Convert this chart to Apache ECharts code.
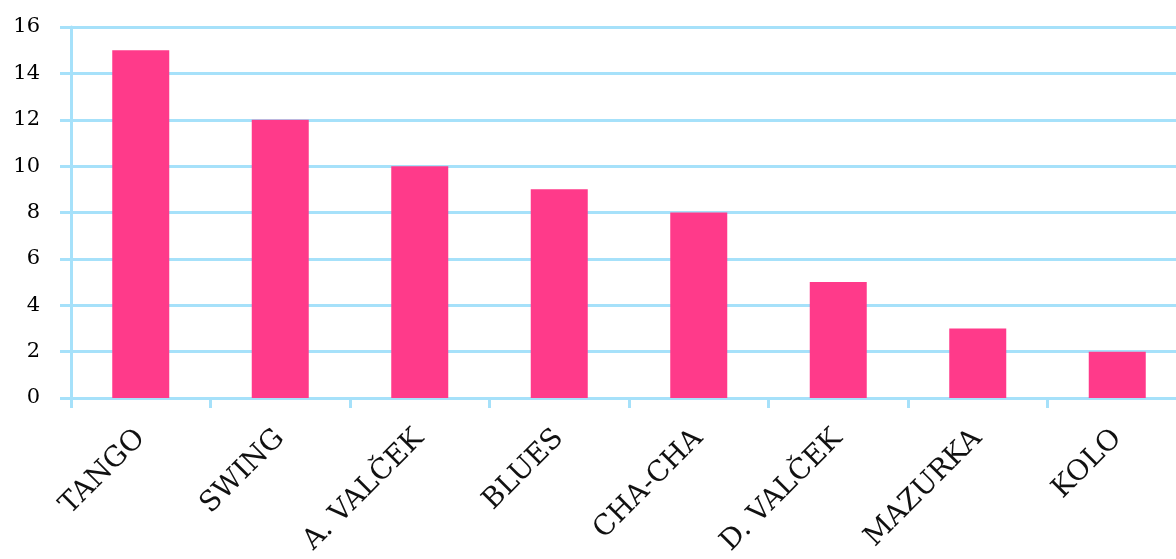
<!DOCTYPE html>
<html><head><meta charset="utf-8">
<script src="https://cdn.jsdelivr.net/npm/echarts@6/dist/echarts.min.js"></script>
<style>html,body{margin:0;padding:0;background:#fff;overflow:hidden}#c{width:1200px;height:559px}</style>
</head><body><div id="c"></div>
<script>
const categories = ["TANGO","SWING","A. VALČEK","BLUES","CHA-CHA","D. VALČEK","MAZURKA","KOLO"];
const values = [15,12,10,9,8,5,3,2];
const yTicks = {min:0,max:16,interval:2};
const gridColor = '#A6E1FA';
const font = 'DejaVu Serif';
const chart = echarts.init(document.getElementById('c'));
chart.setOption({
  animation:false,
  grid:{left:71,top:27,bottom:161,right:13,containLabel:false},
  xAxis:{type:'category',data:categories,boundaryGap:true,
    axisLine:{show:true,lineStyle:{color:gridColor,width:3}},
    axisTick:{show:true,length:10,lineStyle:{color:gridColor,width:3}},
    axisLabel:{rotate:45,margin:36,fontFamily:font,fontSize:28,color:'#111',interval:0}},
  yAxis:{type:'value',min:yTicks.min,max:yTicks.max,interval:yTicks.interval,
    axisLine:{show:true,lineStyle:{color:gridColor,width:3}},
    axisTick:{show:true,length:11,lineStyle:{color:gridColor,width:3}},
    splitLine:{show:true,lineStyle:{color:gridColor,width:3}},
    axisLabel:{margin:31,fontFamily:font,fontSize:21,color:'#000'}},
  series:[{type:'bar',data:values,barWidth:57,itemStyle:{color:'#FF3A8A'}}]
});
</script></body></html>
